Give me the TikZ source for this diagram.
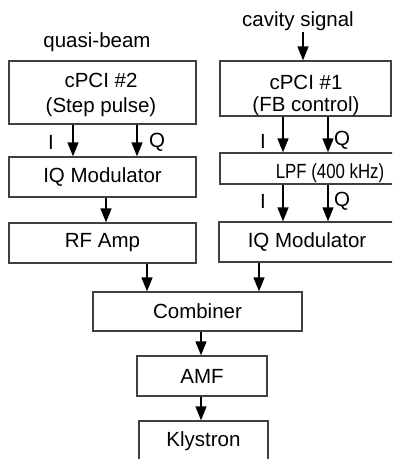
\documentclass[tikz,border=0pt]{standalone}
\usepackage{fontspec}
\setmainfont{Liberation Sans}
\usetikzlibrary{arrows.meta}
\definecolor{boxline}{HTML}{404040}
\begin{document}
\begin{tikzpicture}[x=1bp,y=-1bp,
  every node/.style={font=\fontsize{20.5bp}{26bp}\selectfont},
  blk/.style={draw=boxline, line width=1.3bp, inner sep=0pt, align=center},
  lbl/.style={inner sep=0pt},
  basetxt/.style={inner sep=0pt, anchor=base},
  arr/.style={draw=black, line width=1.4bp, -{Triangle[length=14bp,width=11bp]}}]
\useasboundingbox (0,0) rectangle (392,459);
\fill[white] (0,0) rectangle (392,459);
\clip (0,0) rectangle (392,459);
% boxes
\node[blk, minimum width=187bp, minimum height=63bp] (cpci2) at (102.5,92.5) {};
\node[basetxt] (cpci2a) at (101,87.5) {cPCI \#2};
\node[basetxt] (cpci2b) at (101,112.3) {(Step pulse)};
\node[blk, minimum width=187bp, minimum height=40bp] (iqm1) at (102.5,177) {IQ Modulator};
\node[blk, minimum width=187bp, minimum height=40bp] (rfamp) at (102.5,243) {RF Amp};
\node[blk, minimum width=171bp, minimum height=55bp] (cpci1) at (305.5,88.5) {};
\node[basetxt] (cpci1a) at (306,89.5) {cPCI \#1};
\node[basetxt] (cpci1b) at (306,111.3) {(FB control)};
\node[blk, minimum width=220bp, minimum height=31bp] (lpf) at (330,168.5) {};
\node[basetxt] (lpft) at (330,178.3) {\scalebox{0.82}[1]{LPF (400 kHz)}};
\node[blk, minimum width=176bp, minimum height=40bp] (iqm2) at (307,242) {IQ Modulator};
\node[blk, minimum width=209bp, minimum height=39bp] (comb) at (197.5,311.5) {Combiner};
\node[blk, minimum width=130bp, minimum height=40bp] (amf) at (202,376) {AMF};
\node[blk, minimum width=129bp, minimum height=40bp] (kly) at (203.5,441) {Klystron};
% top labels
\node[lbl] (qb) at (97,42) {quasi-beam};
\node[lbl] (cs) at (298,21) {cavity signal};
\coordinate (csin) at (303,32);
% I/Q labels
\node[lbl] (i1) at (51,142) {I};
\node[lbl] (q1) at (157,142) {Q};
\node[lbl] (i2) at (263,141) {I};
\node[lbl] (q2) at (342,140) {Q};
\node[lbl] (i3) at (263,201) {I};
\node[lbl] (q3) at (342,201) {Q};
% x positions
\coordinate (x73) at (73,0);
\coordinate (x137) at (137,0);
\coordinate (x106) at (106,0);
\coordinate (x283) at (283,0);
\coordinate (x328) at (328,0);
\coordinate (x303) at (303,0);
\coordinate (x147) at (147,0);
\coordinate (x259) at (259,0);
\coordinate (x201) at (201,0);
% connectors
\draw[arr] (csin) -- (cpci1.north -| x303);
\draw[arr] (cpci2.south -| x73) -- (iqm1.north -| x73);
\draw[arr] (cpci2.south -| x137) -- (iqm1.north -| x137);
\draw[arr] (iqm1.south -| x106) -- (rfamp.north -| x106);
\draw[arr] (cpci1.south -| x283) -- (lpf.north -| x283);
\draw[arr] (cpci1.south -| x328) -- (lpf.north -| x328);
\draw[arr] (lpf.south -| x283) -- (iqm2.north -| x283);
\draw[arr] (lpf.south -| x328) -- (iqm2.north -| x328);
\draw[arr] (rfamp.south -| x147) -- (comb.north -| x147);
\draw[arr] (iqm2.south -| x259) -- (comb.north -| x259);
\draw[arr] (comb.south -| x201) -- (amf.north -| x201);
\draw[arr] (amf.south -| x201) -- (kly.north -| x201);
\end{tikzpicture}
\end{document}
